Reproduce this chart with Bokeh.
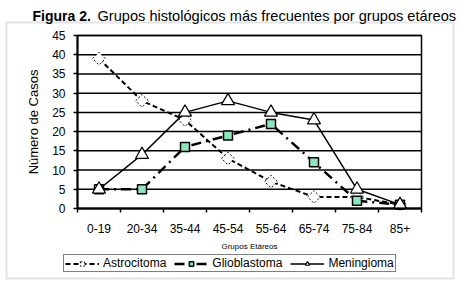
from bokeh.plotting import figure
from bokeh.models import (Range1d, FixedTicker, Legend, LegendItem, Label, BoxAnnotation)
from bokeh.embed import file_html
from bokeh.resources import INLINE
import numpy as np

categories = ["0-19", "20-34", "35-44", "45-54", "55-64", "65-74", "75-84", "85+"]
astrocitoma = [39, 28, 23, 13, 7, 3, 3, 1]
glioblastoma = [5, 5, 16, 19, 22, 12, 2, 1]
meningioma = [5, 14, 25, 28, 25, 23, 5, 1]
y_ticks = [0, 5, 10, 15, 20, 25, 30, 35, 40, 45]
series_names = ["Astrocitoma", "Glioblastoma", "Meningioma"]
title_bold = "Figura 2."
title_rest = "Grupos histológicos más frecuentes por grupos etáreos"
x_title = "Grupos Etáreos"
y_title = "Número de Casos"

FONT = "Liberation Sans"
GREEN = "#8CE6BE"

W, H = 461, 285
# pixel placement of the plotting area (left, right, top, bottom)
PL, PR, PT, PB = 77, 421, 35, 208

n = len(categories)
ymax = y_ticks[-1]
x = np.arange(n) + 0.5

# the frame covers the whole canvas; ranges are extended so that the
# category / value area lands on the pixel box above
kx = (PR - PL) / n
ky = (PB - PT) / ymax
x_range = Range1d(-PL / kx, n + (W - PR) / kx)
y_range = Range1d(-(H - PB) / ky, ymax + PT / ky)

p = figure(width=W, height=H, x_range=x_range, y_range=y_range,
           output_backend="svg", toolbar_location=None,
           min_border=0, min_border_left=0, min_border_right=0,
           min_border_top=0, min_border_bottom=0)
p.background_fill_color = "white"
p.border_fill_color = "white"
p.outline_line_color = None
p.xgrid.visible = False
p.ygrid.visible = False

# horizontal grid lines and plot-area border
p.segment(x0=0, x1=n, y0=y_ticks, y1=y_ticks, line_color="black", line_width=1.5)
p.quad(left=0, right=n, bottom=0, top=ymax, fill_color=None,
       line_color="black", line_width=1.5)

# axes (fixed inside the canvas)
xa = p.xaxis[0]
xa.fixed_location = 0
xa.bounds = (0, n)
xa.ticker = FixedTicker(ticks=list(x), minor_ticks=list(range(n + 1)))
xa.major_label_overrides = {float(v): c for v, c in zip(x, categories)}
xa.major_tick_line_color = None
xa.minor_tick_out = 4
xa.minor_tick_in = 0
xa.minor_tick_line_color = "black"
xa.minor_tick_line_width = 1.5
xa.axis_line_color = "black"
xa.axis_line_width = 2
xa.major_label_text_font = FONT
xa.major_label_text_font_size = "12px"
xa.major_label_text_color = "black"
xa.major_label_standoff = 9
xa.axis_label = x_title
xa.axis_label_text_font = FONT
xa.axis_label_text_font_size = "8px"
xa.axis_label_text_font_style = "normal"
xa.axis_label_text_color = "black"
xa.axis_label_standoff = 6

ya = p.yaxis[0]
ya.fixed_location = 0
ya.bounds = (0, ymax)
ya.ticker = FixedTicker(ticks=y_ticks)
ya.major_tick_out = 4
ya.major_tick_in = 0
ya.major_tick_line_width = 1.5
ya.minor_tick_line_color = None
ya.axis_line_color = "black"
ya.axis_line_width = 2
ya.major_label_text_font = FONT
ya.major_label_text_font_size = "12px"
ya.major_label_text_color = "black"
ya.major_label_standoff = 8
ya.axis_label = y_title
ya.axis_label_text_font = FONT
ya.axis_label_text_font_size = "13px"
ya.axis_label_text_font_style = "normal"
ya.axis_label_text_color = "black"
ya.axis_label_standoff = 8

# series
a_line = p.line(x, astrocitoma, line_color="black", line_width=2, line_dash="5 3")
a_mark = p.scatter(x, astrocitoma, marker="square", angle=np.pi / 4, size=9,
                   fill_color="white", line_color="black", line_width=1, line_dash="2 2")
g_line = p.line(x, glioblastoma, line_color="black", line_width=2.5, line_dash="10 5 2 5")
g_mark = p.scatter(x, glioblastoma, marker="square", size=9, fill_color=GREEN,
                   line_color="black", line_width=1.5)
m_line = p.line(x, meningioma, line_color="black", line_width=1.5)
m_mark = p.scatter(x, meningioma, marker="triangle", size=13, fill_color="white",
                   line_color="black", line_width=1.2)

legend = Legend(items=[
    LegendItem(label=series_names[0], renderers=[a_line, a_mark]),
    LegendItem(label=series_names[1], renderers=[g_line, g_mark]),
    LegendItem(label=series_names[2], renderers=[m_line, m_mark]),
], orientation="horizontal", location=(63, H - 272))
legend.label_text_font = FONT
legend.label_text_font_size = "12px"
legend.label_text_color = "black"
legend.label_height = 11
legend.glyph_height = 11
legend.glyph_width = 34
legend.label_standoff = 4
legend.spacing = 8
legend.padding = 1
legend.margin = 0
legend.border_line_color = "black"
legend.border_line_width = 1.5
legend.background_fill_alpha = 1
p.add_layout(legend, "center")

# outer chart-area box
box = BoxAnnotation(left=6, right=453, bottom=H - 278, top=H - 22,
                    left_units="screen", right_units="screen",
                    top_units="screen", bottom_units="screen",
                    fill_color=None, fill_alpha=0, line_color="#A0A0A0", line_width=2)
p.add_layout(box)

# title
t1 = Label(x=32, y=H - 15, x_units="screen", y_units="screen", text=title_bold,
           text_font=FONT, text_font_size="14px", text_font_style="bold",
           text_color="black", text_baseline="alphabetic")
t2 = Label(x=97, y=H - 15, x_units="screen", y_units="screen", text=title_rest,
           text_font=FONT, text_font_size="14.6px", text_color="black",
           text_baseline="alphabetic")
p.add_layout(t1)
p.add_layout(t2)

open("out.html", "w").write(file_html(p, INLINE))
